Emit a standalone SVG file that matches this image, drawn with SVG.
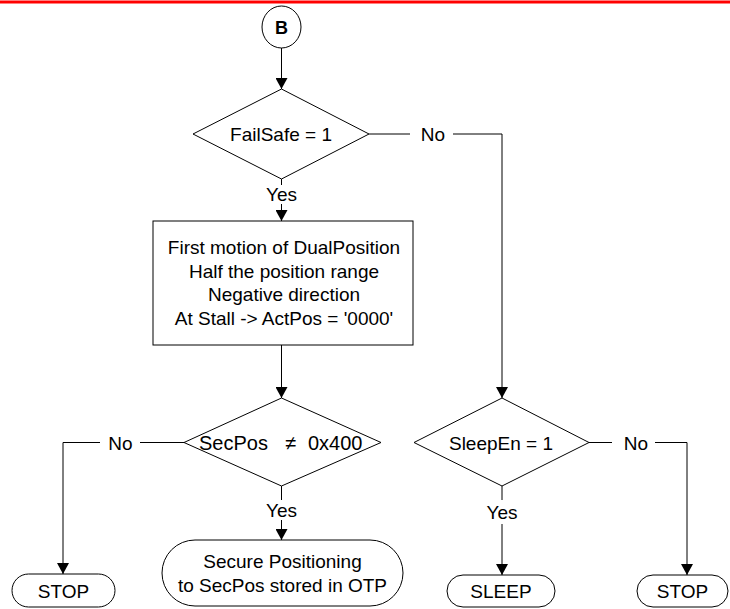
<svg xmlns="http://www.w3.org/2000/svg" width="730" height="609" viewBox="0 0 730 609">
<defs>
<style>
.s{fill:#fff;stroke:#000;stroke-width:1}
.c{fill:none;stroke:#000;stroke-width:1}
.t{font-family:"Liberation Sans",Arial,sans-serif;font-size:19px;fill:#000;text-anchor:middle}
.l{font-family:"Liberation Sans",Arial,sans-serif;font-size:20px;fill:#000}
</style>
<marker id="ah" viewBox="0 0 11 12" refX="11" refY="6" markerWidth="11" markerHeight="12" markerUnits="userSpaceOnUse" orient="auto">
<path d="M0,0 L11,6 L0,12 Z" fill="#000"/>
</marker>
</defs>
<rect width="730" height="609" fill="#fff"/>
<line x1="0" y1="2" x2="730" y2="2" stroke="#f00" stroke-width="3"/>
<g id="connectors">
<line class="c" x1="281.5" y1="48" x2="281.5" y2="89" marker-end="url(#ah)"/>
<polyline class="c" points="369,134 410,134"/>
<polyline class="c" points="453,134 502,134 502,398" marker-end="url(#ah)"/>
<line class="c" x1="281.5" y1="179" x2="281.5" y2="185"/>
<line class="c" x1="281.5" y1="204" x2="281.5" y2="221" marker-end="url(#ah)"/>
<line class="c" x1="281.5" y1="345" x2="281.5" y2="398" marker-end="url(#ah)"/>
<polyline class="c" points="184,442.5 140,442.5"/>
<polyline class="c" points="100,442.5 63,442.5 63,574" marker-end="url(#ah)"/>
<line class="c" x1="281.5" y1="486" x2="281.5" y2="500"/>
<line class="c" x1="281.5" y1="520" x2="281.5" y2="540" marker-end="url(#ah)"/>
<line class="c" x1="502" y1="486" x2="502" y2="500"/>
<line class="c" x1="502" y1="524" x2="502" y2="575" marker-end="url(#ah)"/>
<polyline class="c" points="589,442.5 612,442.5"/>
<polyline class="c" points="655,442.5 687,442.5 687,575" marker-end="url(#ah)"/>
<text class="t" x="433" y="141">No</text>
<text class="t" x="281.5" y="201">Yes</text>
<text class="t" x="120.5" y="449.5">No</text>
<text class="t" x="636" y="449.5">No</text>
<text class="t" x="281.5" y="517">Yes</text>
<text class="t" x="502" y="519">Yes</text>
</g>
<g id="connectorB">
<ellipse class="s" cx="281.5" cy="27" rx="19.5" ry="21"/>
<text x="281.5" y="33.5" style="font-family:'Liberation Sans',Arial,sans-serif;font-size:18px;font-weight:bold;text-anchor:middle">B</text>
</g>
<g id="failsafe">
<polygon class="s" points="281.5,89 369,134 281.5,179 193,134"/>
<text class="t" x="281" y="141">FailSafe = 1</text>
</g>
<g id="firstmotion">
<rect class="s" x="153" y="221" width="260" height="124"/>
<text class="t" x="284" y="254">First motion of DualPosition</text>
<text class="t" x="284" y="278">Half the position range</text>
<text class="t" x="284" y="301">Negative direction</text>
<text class="t" x="284" y="325">At Stall -&gt; ActPos = '0000'</text>
</g>
<g id="secpos">
<polygon class="s" points="281.5,398 381,442.5 281.5,486 184,442.5"/>
<text class="l" x="199" y="449.5">SecPos <tspan x="285">≠</tspan> <tspan x="308">0x400</tspan></text>
</g>
<g id="sleepen">
<polygon class="s" points="502,398 589,442.5 502,486 414,442.5"/>
<text class="t" x="501" y="449.5">SleepEn = 1</text>
</g>
<g id="stop1">
<rect class="s" x="12" y="574" width="103" height="33" rx="16.5"/>
<text class="t" x="63.5" y="597.5">STOP</text>
</g>
<g id="secure">
<rect class="s" x="162" y="540" width="241" height="66" rx="33"/>
<text class="t" x="282.5" y="567.5">Secure Positioning</text>
<text class="t" x="282.5" y="591.5">to SecPos stored in OTP</text>
</g>
<g id="sleep">
<rect class="s" x="447" y="575" width="108" height="32" rx="16"/>
<text class="t" x="501" y="598">SLEEP</text>
</g>
<g id="stop2">
<rect class="s" x="637" y="575" width="91" height="32" rx="16"/>
<text class="t" x="682.5" y="598">STOP</text>
</g>
</svg>
